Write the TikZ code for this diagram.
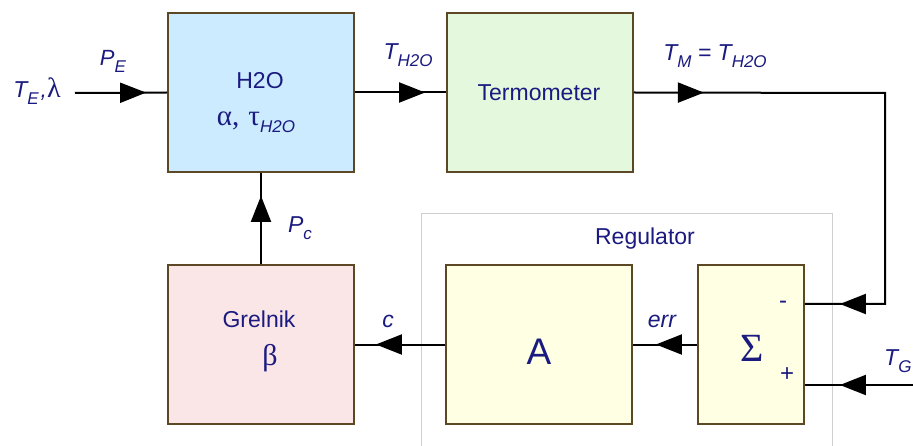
\documentclass[tikz,border=0pt]{standalone}
\usepackage{fontspec}
\setmainfont{Liberation Sans}
\newfontfamily\grk{Liberation Serif}
\usetikzlibrary{arrows.meta,decorations.markings,calc}

\definecolor{ink}{HTML}{1A1A80}
\definecolor{edge}{HTML}{5C4824}
\definecolor{fillwater}{HTML}{CCEBFF}
\definecolor{fillterm}{HTML}{E3F8DC}
\definecolor{fillheat}{HTML}{FAE6E6}
\definecolor{fillreg}{HTML}{FFFFE4}
\definecolor{framegray}{HTML}{CFCFCF}

\newcommand\fsz[1]{\fontsize{#1}{#1}\selectfont}
\newcommand\lsub[1]{\raisebox{-0.3em}{\fsz{17}\itshape #1}}

\tikzset{
  blk/.style={rectangle, draw=edge, line width=1.8pt, minimum height=159pt, inner sep=0pt},
  txt/.style={text=ink, font=\fsz{23}, inner sep=0pt},
  sig/.style={text=ink, font=\fsz{23}\itshape, inner sep=0pt, anchor=base},
  wire/.style={line width=2pt, black},
  tipat/.style={postaction={decorate, decoration={markings,
      mark=at position #1 with {\arrow{Triangle[length=26pt,width=20pt]}}}}}
}

\begin{document}
\begin{tikzpicture}[x=1pt, y=-1pt]
  \useasboundingbox (0,0) rectangle (913,446);
  \clip (0,0) rectangle (913,446);

  % regulator frame
  \draw[framegray, line width=0.8pt] (421,213) rectangle (832,470);
  \node[txt] (regtxt) at (645,239) {Regulator};

  % blocks
  \node[blk, fill=fillwater, minimum width=186pt] (h2o)  at (261,92.5) {};
  \node[blk, fill=fillterm,  minimum width=186pt] (term) at (540,92.5) {};
  \node[blk, fill=fillheat,  minimum width=186pt] (grel) at (261,344.5) {};
  \node[blk, fill=fillreg,   minimum width=186pt] (amp)  at (539,344.5) {};
  \node[blk, fill=fillreg,   minimum width=106pt] (sum)  at (751,344.5) {};

  % block texts
  \node[txt] (h2oa) at (260,81) {H2O};
  \node[txt] (h2ob) at (256,122) {{\grk\fsz{29}α,}\hspace{9pt}{\grk\fsz{29}τ}\lsub{H2O}};
  \node[txt] (termtxt) at (539,93) {Termometer};
  \node[txt] (grela) at (259,319) {Grelnik};
  \node[txt] (grelb) at (270,358) {\grk\fsz{30}β};
  \node[txt, font=\fsz{37}] (amptxt) at (539,352) {A};
  \node[txt, font=\grk\fsz{40}] (sumtxt) at (752,348) {Σ};
  \node[txt, font=\fsz{24}] (minus) at (783,305) {-};
  \node[txt, font=\fsz{24}] (plus) at (787,375) {+};

  % free ends
  \coordinate (inp) at (75,93);
  \coordinate (c1) at (885,93);
  \coordinate (c2) at (885,304);
  \coordinate (tg) at (913,385);

  % connectors
  \draw[wire, tipat=-21pt] (inp) -- (h2o.west);
  \draw[wire, tipat=-21pt] (h2o.east) -- (term.west);
  \draw[wire, tipat=70pt, tipat=-35pt] (term.east) -- (c1) -- (c2) -- (c2 -| sum.east);
  \draw[wire, tipat=-35pt] (tg) -- (tg -| sum.east);
  \draw[wire, tipat=-23pt] (sum.west) -- (amp.east);
  \draw[wire, tipat=-21pt] (amp.west) -- (grel.east);
  \draw[wire, tipat=-23pt] (grel.north) -- (h2o.south);

  % signal labels
  \node[sig] (lte) at (37,98) {T\lsub{E}\hspace{2pt},{\upshape\grk\fsz{28}λ}};
  \node[sig, font=\fsz{22}\itshape] (lpe) at (113,66) {P\lsub{E}};
  \node[sig] (lth) at (408,60) {T\lsub{H2O}};
  \node[sig] (ltm) at (715,61) {T\lsub{M} = T\lsub{H2O}};
  \node[sig] (lpc) at (300,233) {P\lsub{c}};
  \node[sig] (lc) at (388,327) {c};
  \node[sig] (lerr) at (662,327) {err};
  \node[sig, anchor=base west] (ltg) at (884,366) {T\lsub{G}};
\end{tikzpicture}
\end{document}
